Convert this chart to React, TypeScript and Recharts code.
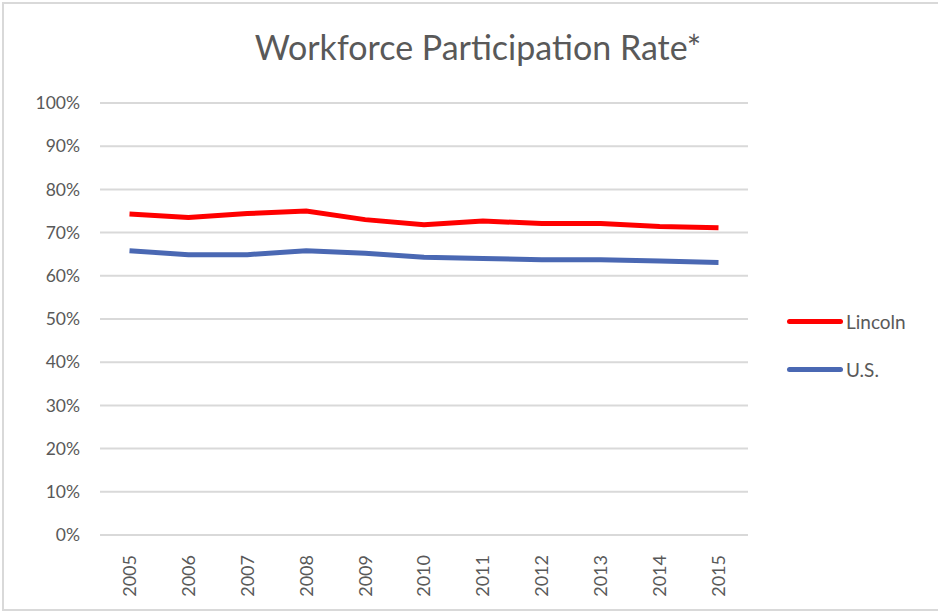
import { LineChart, Line, XAxis, YAxis, CartesianGrid, Legend } from 'recharts'

const years = ['2005', '2006', '2007', '2008', '2009', '2010', '2011', '2012', '2013', '2014', '2015']
const lincoln = [74.3, 73.5, 74.4, 75.0, 73.0, 71.8, 72.7, 72.1, 72.1, 71.4, 71.1]
const us = [65.8, 64.9, 64.9, 65.8, 65.2, 64.3, 64.0, 63.7, 63.7, 63.4, 63.1]
const yTicks = [0, 10, 20, 30, 40, 50, 60, 70, 80, 90, 100]

const series = [
  { key: 'Lincoln', color: '#ff0000' },
  { key: 'U.S.', color: '#4a68b3' },
]

const data = years.map((y, i) => ({ year: y, Lincoln: lincoln[i], 'U.S.': us[i] }))

const FONT = 'Lato, "Open Sans", sans-serif'
const TEXT = '#595959'

function YearTick({ x, y, payload }: { x?: number; y?: number; payload?: { value: string } }) {
  return (
    <text
      x={0}
      y={0}
      transform={`translate(${x},${(y ?? 0) + 12}) rotate(-90)`}
      textAnchor="end"
      dy="0.36em"
      fill={TEXT}
      fontSize={18}
      fontFamily={FONT}
    >
      {payload?.value}
    </text>
  )
}

function LegendBox() {
  return (
    <div style={{ fontFamily: FONT }}>
      {series.map((s) => (
        <div key={s.key} style={{ display: 'flex', alignItems: 'center', height: 48 }}>
          <div style={{ width: 56, height: 5, borderRadius: 3, background: s.color, marginRight: 3 }} />
          <span style={{ color: TEXT, fontSize: 19 }}>{s.key}</span>
        </div>
      ))}
    </div>
  )
}

export default function App() {
  return (
    <div style={{ position: 'fixed', left: 0, top: 0, width: 938, height: 615, background: '#fff' }}>
      <div
        style={{
          position: 'absolute',
          left: 2,
          top: 2,
          width: 940,
          height: 609,
          border: '2px solid #d9d9d9',
          boxSizing: 'border-box',
        }}
      />
      <div
        style={{
          position: 'absolute',
          left: 0,
          top: 27,
          width: 956,
          textAlign: 'center',
          fontFamily: FONT,
          fontWeight: 400,
          fontSize: 34,
          lineHeight: '40px',
          color: TEXT,
        }}
      >
        Workforce Participation Rate*
      </div>
      <LineChart width={938} height={615} data={data} margin={{ top: 103, right: 50, bottom: 0, left: 0 }}>
        <CartesianGrid vertical={false} stroke="#d9d9d9" strokeWidth={2} />
        <XAxis
          dataKey="year"
          padding={{ left: 29.5, right: 29.5 }}
          axisLine={{ stroke: '#d9d9d9', strokeWidth: 2 }}
          tickLine={false}
          tick={<YearTick />}
          interval={0}
          height={80}
        />
        <YAxis
          domain={[0, 100]}
          ticks={yTicks}
          tickFormatter={(v) => `${v}%`}
          axisLine={false}
          tickLine={false}
          width={100}
          tickMargin={14}
          tick={{ fill: TEXT, fontSize: 17.5, fontFamily: FONT }}
        />
        <Legend
          layout="vertical"
          verticalAlign="top"
          align="right"
          content={<LegendBox />}
          wrapperStyle={{ left: 787, top: 297, width: 140 }}
        />
        {series.map((s) => (
          <Line
            key={s.key}
            type="linear"
            dataKey={s.key}
            stroke={s.color}
            strokeWidth={5}
            dot={false}
            isAnimationActive={false}
          />
        ))}
      </LineChart>
    </div>
  )
}
